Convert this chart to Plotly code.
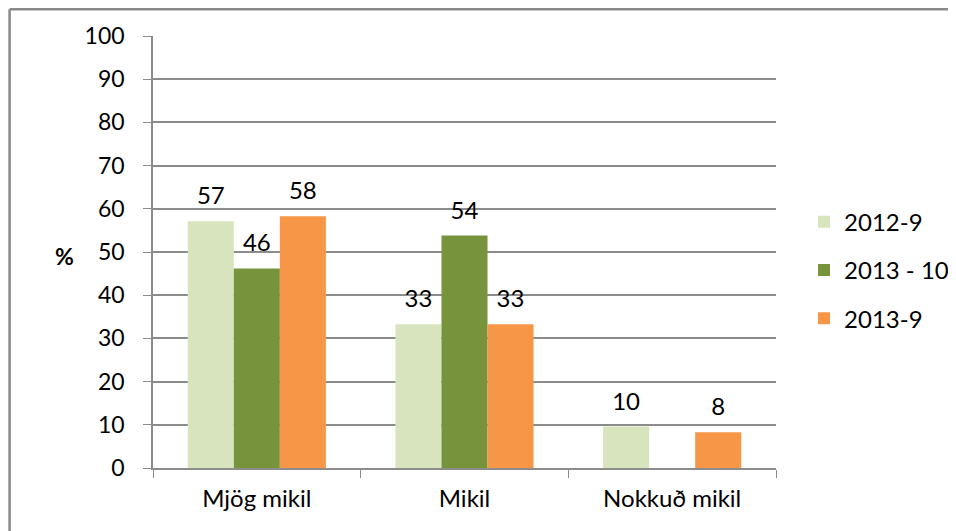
import plotly.graph_objects as go

categories = ["Mjög mikil", "Mikil", "Nokkuð mikil"]
series_names = ["2012-9", "2013 - 10", "2013-9"]
values_2012_9 = [57.1, 33.3, 9.6]
values_2013_10 = [46.2, 53.8, None]
values_2013_9 = [58.3, 33.3, 8.3]
y_ticks = [0, 10, 20, 30, 40, 50, 60, 70, 80, 90, 100]

colours = ["#D7E4BD", "#77933C", "#F79646"]
font_name = "Lato, 'Open Sans', sans-serif"
grid_col = "#8C8C8C"

fig = go.Figure()
all_values = [values_2012_9, values_2013_10, values_2013_9]
for i, (name, vals) in enumerate(zip(series_names, all_values)):
    fig.add_trace(go.Bar(
        x=categories, y=vals, name=name, marker_color=colours[i],
        marker_line_width=0, offsetgroup=str(i), legendgroup=str(i),
    ))
# value labels, grouped the same way as the bars
for i, vals in enumerate(all_values):
    fig.add_trace(go.Scatter(
        x=categories, y=vals, mode="markers+text", offsetgroup=str(i),
        text=[None if v is None else f"{round(v):d}" for v in vals],
        textposition="top center", textfont=dict(size=24, color="#000000", family=font_name),
        marker=dict(size=16, opacity=0), showlegend=False, hoverinfo="skip",
    ))

# the page body adds 8px around the figure, so margins are shifted by that
fig.update_layout(
    width=948, height=523,
    barmode="group", bargap=0.335, bargroupgap=0,
    scattermode="group", scattergap=0.335,
    plot_bgcolor="white", paper_bgcolor="white",
    margin=dict(l=145, r=180, t=28, b=63, autoexpand=False),
    font=dict(family=font_name, size=24, color="#000000"),
    legend=dict(x=1.045, y=0.458, xanchor="left", yanchor="middle",
                font=dict(size=24), tracegroupgap=14, traceorder="grouped",
                itemclick=False),
    showlegend=True,
)
fig.update_xaxes(
    showline=True, linecolor=grid_col, linewidth=1.5,
    ticks="outside", tickson="boundaries", ticklen=8, tickcolor=grid_col,
    ticklabelstandoff=8, showgrid=False, tickfont=dict(size=24),
)
fig.update_yaxes(
    range=[0, 100], tickvals=y_ticks, showgrid=True, gridcolor=grid_col, gridwidth=1.5,
    showline=True, linecolor=grid_col, linewidth=1.5,
    ticks="outside", ticklen=8, tickcolor=grid_col, ticklabelstandoff=14, zeroline=False,
    tickfont=dict(size=23),
)
fig.add_annotation(text="<b>%</b>", x=-0.16, y=0.49, xref="paper", yref="paper",
                   showarrow=False, font=dict(size=23))
# outer chart frame (only top and left edges visible)
fig.add_shape(type="line", xref="paper", yref="paper", x0=-0.2302, x1=1.3, y0=1.062, y1=1.062,
              line=dict(color="#898989", width=2.5))
fig.add_shape(type="line", xref="paper", yref="paper", x0=-0.2302, x1=-0.2302, y0=-0.2, y1=1.062,
              line=dict(color="#898989", width=2.5))

fig.write_html("out.html")
